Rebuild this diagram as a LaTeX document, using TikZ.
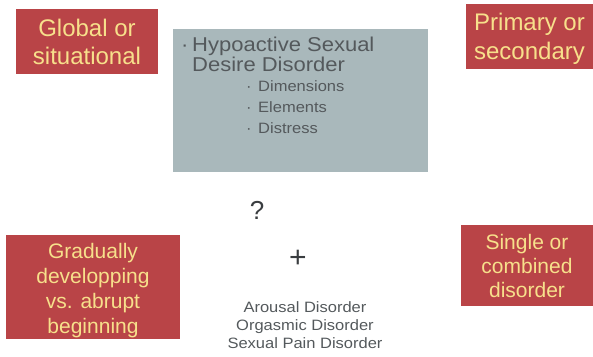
\documentclass[tikz,border=0pt]{standalone}
\usepackage{fontspec}
\setmainfont{Liberation Sans}
\newfontfamily\widefont[FakeStretch=1.1]{Liberation Sans}
\definecolor{boxred}{HTML}{B94447}
\definecolor{boxyellow}{HTML}{F7E08B}
\definecolor{boxgray}{HTML}{A9B8BB}
\definecolor{graytext}{HTML}{54595C}
\definecolor{darktext}{HTML}{3A3D40}
\tikzset{
  redbox/.style={fill=boxred, inner sep=0pt},
  redtxt/.style={text=boxyellow, inner sep=0pt, align=center},
  graybox/.style={fill=boxgray, inner sep=0pt},
  maintxt/.style={text=graytext, inner sep=0pt, anchor=base west, font=\widefont\fontsize{20}{20}\selectfont},
  subtxt/.style={text=graytext, inner sep=0pt, anchor=base west, font=\widefont\fontsize{15}{15}\selectfont},
  symtxt/.style={text=darktext, inner sep=0pt},
  listtxt/.style={text=graytext, inner sep=0pt, anchor=base, font=\widefont\fontsize{15}{15}\selectfont}
}
\begin{document}
\begin{tikzpicture}[x=1pt,y=-1pt]
\useasboundingbox (0,0) rectangle (593,356);
% red boxes
\node[redbox, minimum width=142pt, minimum height=65pt] (global) at (87,41.5) {};
\node[redtxt, font=\fontsize{24}{28}\selectfont] (globaltxt) at (global.center) {Global or\\situational};
\node[redbox, minimum width=127pt, minimum height=65pt] (primary) at (529.5,36.5) {};
\node[redtxt, font=\fontsize{24}{29}\selectfont] (primarytxt) at ([yshift=-2pt]primary.center) {Primary or\\secondary};
\node[redbox, minimum width=174pt, minimum height=104pt] (gradual) at (93,287) {};
\node[redtxt, font=\fontsize{21}{25}\selectfont] (gradualtxt) at ([yshift=-4pt]gradual.center) {Gradually\\developping\\vs. abrupt\\beginning};
\node[redbox, minimum width=132pt, minimum height=81pt] (single) at (527,265.5) {};
\node[redtxt, font=\fontsize{21}{24}\selectfont] (singletxt) at (single.center) {Single or\\combined\\disorder};
% gray box
\node[graybox, minimum width=255pt, minimum height=143pt] (hsdd) at (300.5,100.5) {};
\node[maintxt] (b0) at (181,51) {\textperiodcentered};
\node[maintxt] (t1) at (192,51) {Hypoactive Sexual};
\node[maintxt] (t2) at (192,71) {Desire Disorder};
\node[subtxt] (b1) at (246,91) {\textperiodcentered};
\node[subtxt] (s1) at (258,91) {Dimensions};
\node[subtxt] (b2) at (246,112) {\textperiodcentered};
\node[subtxt] (s2) at (258,112) {Elements};
\node[subtxt] (b3) at (246,133) {\textperiodcentered};
\node[subtxt] (s3) at (258,133) {Distress};
% symbols
\node[symtxt, anchor=base, font=\fontsize{26}{26}\selectfont] (q) at (257,219) {?};
\node[symtxt, font=\fontsize{30}{30}\selectfont] (plus) at (298,259) {+};
% list
\node[listtxt] (l1) at (305,312) {Arousal Disorder};
\node[listtxt] (l2) at (305,330) {Orgasmic Disorder};
\node[listtxt] (l3) at (305,348) {Sexual Pain Disorder};
\end{tikzpicture}
\end{document}
